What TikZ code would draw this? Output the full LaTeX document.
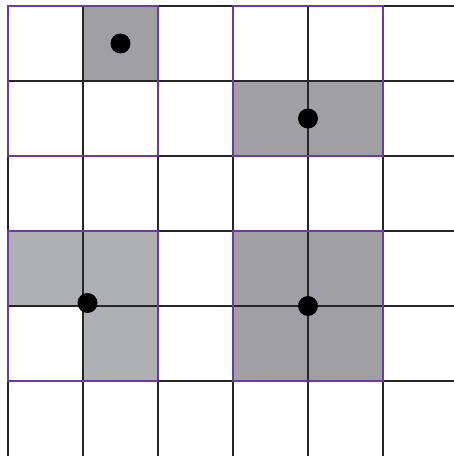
\documentclass[tikz,border=0pt]{standalone}
\usepackage{xcolor}
\usepackage{tikz}

\definecolor{darkcell}{RGB}{160,159,163}
\definecolor{lightcell}{RGB}{174,176,179}
\definecolor{blockpurple}{RGB}{108,58,165}

\begin{document}
\begin{tikzpicture}[
            darkfill/.style={fill=darkcell},
            lightfill/.style={fill=lightcell},
            gridline/.style={draw=black!85, line width=0.45pt},
            block/.style={draw=blockpurple, line width=0.9pt},
            dot/.style={fill=black}
            ]
            \useasboundingbox (-0.1067,0) rectangle (5.9467,6.08);
            \clip (-0.1067,0) rectangle (5.9467,6.08);

            %% ---- shaded cells ----
            \fill[darkfill]  (1,5) rectangle (2,6);
            \fill[darkfill]  (3,4) rectangle (5,5);
            \fill[lightfill] (0,2) rectangle (2,3);
            \fill[lightfill] (1,1) rectangle (2,2);
            \fill[darkfill]  (3,1) rectangle (5,3);

            %% ---- grid ----
            \foreach \x in {0,...,6}
                \draw[gridline] (\x,0) -- (\x,6);
            \foreach \y in {1,...,6}
                \draw[gridline] (0,\y) -- (6.5,\y);

            %% ---- 2x2 blocks ----
            \draw[block] (0,4) rectangle (2,6);
            \draw[block] (3,4) rectangle (5,6);
            \draw[block] (0,1) rectangle (2,3);
            \draw[block] (3,1) rectangle (5,3);

            %% ---- centres ----
            \fill[dot] (1.5,5.5)   circle (0.133);
            \fill[dot] (4,4.5)     circle (0.133);
            \fill[dot] (1.06,2.04) circle (0.133);
            \fill[dot] (4,2)       circle (0.133);
\end{tikzpicture}
\end{document}
